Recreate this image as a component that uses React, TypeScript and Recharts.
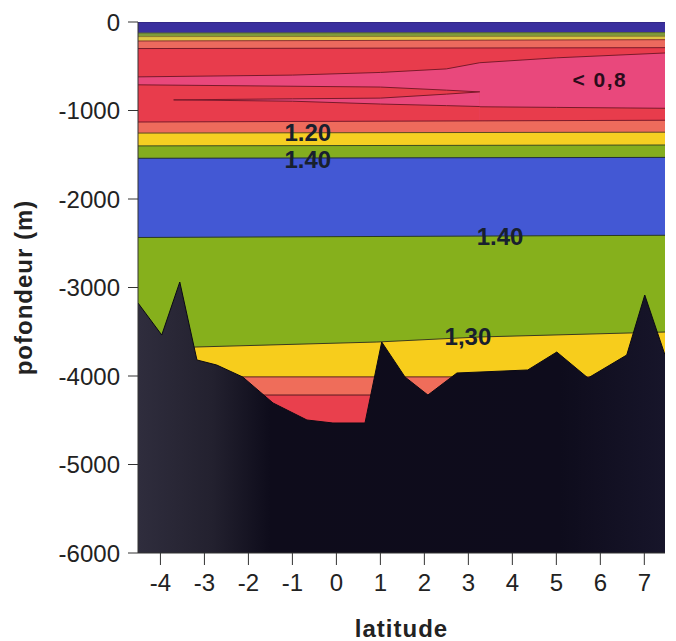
import React from 'react';
import { ComposedChart, Area, XAxis, YAxis, ReferenceDot } from 'recharts';

const FONT = '"Liberation Sans", Arial, sans-serif';

const LAT_TICKS = [-4, -3, -2, -1, 0, 1, 2, 3, 4, 5, 6, 7];
const DEPTH_TICKS = [0, -1000, -2000, -3000, -4000, -5000, -6000];
const TOP_TICKS = [0, 5];
const RIGHT_TICKS = [-2000, -4000];

// top boundary of each band: [latitude, depth]
const SURFACE_BLUE = [[-4.51, 0], [7.47, 0]];
const SURFACE_GREEN = [[-4.51, -125], [7.47, -120]];
const SURFACE_YELLOW = [[-4.51, -165], [7.47, -160]];
const SURFACE_SALMON = [[-4.51, -215], [7.47, -200]];
const UPPER_RED = [[-4.51, -300], [7.47, -290]];
const UPPER_PINK = [[-4.51, -620], [-1, -600], [1.0, -570], [2.5, -530], [3.26, -460], [5, -405], [7.47, -350]];
// red tongue (west) and red layer under the pink core (east)
const MID_RED_WEST = [[-4.51, -710], [1.0, -735], [2.5, -770], [3.26, -790]];
const MID_RED_EAST = [[3.26, -958], [5, -965], [7.47, -975]];
// lens below the red tongue: [latitude, bottom, top]
const LOWER_PINK = [[-3.7, -880, -880], [-1, -895, -868], [1.0, -927, -860], [2.5, -945, -815], [3.26, -955, -790]];
const LOWER_SALMON = [[-4.51, -1130], [7.47, -1110]];
const LOWER_YELLOW = [[-4.51, -1255], [7.47, -1245]];
const LOWER_GREEN = [[-4.51, -1400], [7.47, -1390]];
const DEEP_BLUE = [[-4.51, -1540], [7.47, -1530]];
const DEEP_GREEN = [[-4.51, -2435], [7.47, -2410]];
const BOTTOM_YELLOW = [[-4.51, -3700], [-3.17, -3672], [0.92, -3616], [3.26, -3559], [7.47, -3503]];
const BOTTOM_SALMON = [[-4.51, -4010], [7.47, -4010]];
const BOTTOM_RED = [[-4.51, -4215], [7.47, -4215]];

const SEAFLOOR_LAT = [-4.51, -3.97, -3.56, -3.17, -2.72, -2.13, -1.44, -0.67, -0.08, 0.65, 1.03, 1.56, 2.08, 2.74, 4.35, 5.01, 5.72, 6.6, 7.01, 7.47];
const SEAFLOOR_DEPTH = [-3175, -3537, -2938, -3819, -3876, -4011, -4305, -4497, -4531, -4531, -3616, -4011, -4215, -3966, -3932, -3729, -4023, -3763, -3085, -3763];

const LABEL_TEXT = ['< 0,8', '1.20', '1.40', '1.40', '1,30'];
const LABEL_LAT = [5.99, -0.65, -0.65, 3.72, 2.99];
const LABEL_DEPTH = [-655, -1254, -1559, -2429, -3559];

const toRows = (pts: number[][]) => pts.map(([lat, top]) => ({ lat, top }));

const BANDS = [
  { id: 'surfBlue', pts: SURFACE_BLUE, fill: '#3a2f9e', stroke: '#2a2070' },
  { id: 'surfGreen', pts: SURFACE_GREEN, fill: '#7f9b3a', stroke: '#5a6a30' },
  { id: 'surfYellow', pts: SURFACE_YELLOW, fill: '#dcc444', stroke: '#8a7a30' },
  { id: 'surfSalmon', pts: SURFACE_SALMON, fill: '#ec6a5e', stroke: '#8a3030' },
  { id: 'upRed', pts: UPPER_RED, fill: '#e83c4c', stroke: '#7a1a2a' },
  { id: 'upPink', pts: UPPER_PINK, fill: '#e9487c', stroke: '#7a1a2a' },
  { id: 'midRedW', pts: MID_RED_WEST, fill: '#e83c4c', stroke: '#7a1a2a' },
  { id: 'midRedE', pts: MID_RED_EAST, fill: '#e83c4c', stroke: '#7a1a2a' },
];

const BANDS_BELOW = [
  { id: 'lowSalmon', pts: LOWER_SALMON, fill: '#ee6b5c', stroke: '#7a1a2a' },
  { id: 'lowYellow', pts: LOWER_YELLOW, fill: '#f6cf22', stroke: '#5a4a20' },
  { id: 'lowGreen', pts: LOWER_GREEN, fill: '#84ad1f', stroke: '#3a4a20' },
  { id: 'deepBlue', pts: DEEP_BLUE, fill: '#4358d4', stroke: '#1f2a40' },
  { id: 'deepGreen', pts: DEEP_GREEN, fill: '#86b01c', stroke: '#2a3a20' },
  { id: 'botYellow', pts: BOTTOM_YELLOW, fill: '#f7cd1c', stroke: '#3a3a20' },
  { id: 'botSalmon', pts: BOTTOM_SALMON, fill: '#ef6d5a', stroke: '#5a2020' },
  { id: 'botRed', pts: BOTTOM_RED, fill: '#e9404d', stroke: '#5a1a20' },
];

const lowerPinkRows = LOWER_PINK.map(([lat, lo, hi]) => ({ lat, range: [lo, hi] }));
const seafloorRows = SEAFLOOR_LAT.map((lat, i) => ({ lat, top: SEAFLOOR_DEPTH[i] }));

const renderBand = (b: { id: string; pts: number[][]; fill: string; stroke: string }) => (
  <Area
    key={b.id}
    data={toRows(b.pts)}
    dataKey="top"
    type="linear"
    baseValue={-6000}
    fill={b.fill}
    fillOpacity={1}
    stroke={b.stroke}
    strokeWidth={1}
    isAnimationActive={false}
  />
);

export default function App() {
  return (
    <div style={{ position: 'absolute', left: 0, top: 0, background: '#fff' }}>
      <ComposedChart width={676} height={641} margin={{ top: 0, right: 0, bottom: 0, left: 0 }}>
        <defs>
          <linearGradient id="seafloor" x1="0" y1="0" x2="1" y2="0">
            <stop offset="0%" stopColor="#2f2d3d" />
            <stop offset="14%" stopColor="#23212f" />
            <stop offset="25%" stopColor="#0e0c1b" />
            <stop offset="80%" stopColor="#0e0c1c" />
            <stop offset="100%" stopColor="#17152a" />
          </linearGradient>
        </defs>
        <XAxis
          dataKey="lat"
          type="number"
          domain={[-4.51, 7.47]}
          ticks={LAT_TICKS}
          allowDataOverflow
          height={88}
          tickSize={12}
          tickMargin={9}
          stroke="#333"
          tick={{ fontSize: 24, fill: '#222', fontFamily: FONT }}
          label={{ value: 'latitude', position: 'insideBottom', offset: 4, fontSize: 24, fontWeight: 700, fill: '#222', fontFamily: FONT, letterSpacing: 1 }}
        />
        <XAxis
          xAxisId="top"
          orientation="top"
          type="number"
          domain={[-4.51, 7.47]}
          ticks={TOP_TICKS}
          height={22}
          tickSize={15}
          tick={false}
          axisLine={false}
          stroke="#333"
        />
        <YAxis
          type="number"
          domain={[-6000, 0]}
          ticks={DEPTH_TICKS}
          allowDataOverflow
          width={138}
          tickSize={10}
          tickMargin={8}
          stroke="#333"
          tick={{ fontSize: 24, fill: '#222', fontFamily: FONT }}
          label={{ value: 'pofondeur (m)', angle: -90, position: 'insideLeft', offset: 23, fontSize: 24, fontWeight: 700, fill: '#222', fontFamily: FONT, letterSpacing: 1, style: { textAnchor: 'middle' } }}
        />
        <YAxis
          yAxisId="right"
          orientation="right"
          type="number"
          domain={[-6000, 0]}
          ticks={RIGHT_TICKS}
          width={11}
          tickSize={10}
          tick={false}
          axisLine={false}
          stroke="#333"
        />
        {BANDS.map(renderBand)}
        <Area
          data={lowerPinkRows}
          dataKey="range"
          type="linear"
          fill="#e9487c"
          fillOpacity={1}
          stroke="#7a1a2a"
          strokeWidth={1}
          isAnimationActive={false}
        />
        {BANDS_BELOW.map(renderBand)}
        <Area
          data={seafloorRows}
          dataKey="top"
          type="linear"
          baseValue={-6000}
          fill="url(#seafloor)"
          fillOpacity={1}
          stroke="#0a0914"
          strokeWidth={1}
          isAnimationActive={false}
        />
        {LABEL_TEXT.map((t, i) => (
          <ReferenceDot
            key={`lbl-${i}`}
            x={LABEL_LAT[i]}
            y={LABEL_DEPTH[i]}
            r={0}
            fill="none"
            stroke="none"
            label={{
              value: t,
              position: 'center',
              fontSize: i === 0 ? 21 : 24,
              fontWeight: 700,
              letterSpacing: i === 0 ? 1.5 : 0,
              fill: i === 0 ? '#2a0c1a' : '#18202e',
              fontFamily: FONT,
            }}
          />
        ))}
      </ComposedChart>
    </div>
  );
}
